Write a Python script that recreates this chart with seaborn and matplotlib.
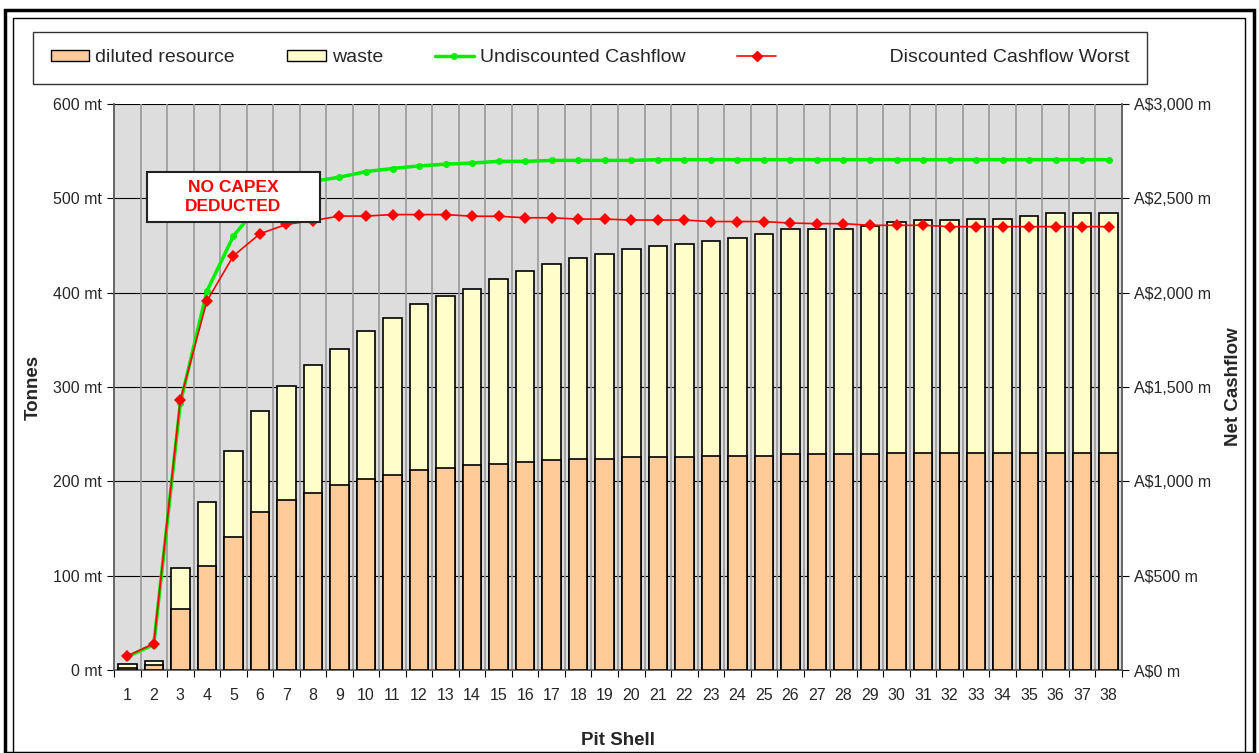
import numpy as np
import pandas as pd
import matplotlib
matplotlib.use('Agg')
import matplotlib.pyplot as plt
from matplotlib.patches import Patch, Rectangle
from matplotlib.lines import Line2D
import seaborn as sns

# data
shells = [str(i) for i in range(1, 39)]
resource = [2, 5, 65, 110, 141, 167, 180, 188, 196, 202, 207, 212, 214, 217, 218, 221, 223, 224, 224,
            226, 226, 226, 227, 227, 227, 229, 229, 229, 229, 230, 230, 230, 230, 230, 230, 230, 230, 230]
waste = [4, 5, 43, 68, 91, 108, 121, 135, 144, 157, 166, 176, 182, 187, 197, 202, 207, 213, 217,
         220, 223, 226, 228, 231, 235, 238, 239, 239, 242, 245, 247, 247, 248, 248, 251, 254, 254, 254]
undiscounted = [70, 135, 1415, 2007, 2300, 2470, 2550, 2590, 2612, 2642, 2658, 2672, 2681, 2687, 2696, 2696,
                2701, 2701, 2701, 2701, 2705, 2705, 2705, 2705, 2705, 2705, 2705, 2705, 2705, 2705, 2705,
                2705, 2705, 2705, 2705, 2705, 2705, 2705]
discounted = [74, 140, 1430, 1955, 2195, 2312, 2362, 2382, 2406, 2406, 2414, 2414, 2414, 2405, 2405, 2397,
              2397, 2390, 2390, 2385, 2385, 2385, 2377, 2377, 2377, 2369, 2366, 2366, 2357, 2357, 2357,
              2350, 2350, 2350, 2350, 2350, 2350, 2350]

df = pd.DataFrame({'shell': shells, 'resource': resource, 'waste': waste,
                   'undisc': undiscounted, 'disc': discounted})
df['total'] = df['resource'] + df['waste']
df['pos'] = np.arange(len(df))

sns.set_theme(style='white')
plt.rcParams['font.family'] = ['Liberation Sans', 'DejaVu Sans']

fig = plt.figure(figsize=(12.59, 7.53), dpi=100)
ax = fig.add_axes([114/1259, 1-670/753, (1122-114)/1259, (670-104)/753])
ax.set_facecolor('#DDDDDD')

# stacked bars: total first (waste colour), then resource on top of it
sns.barplot(data=df, x='shell', y='total', color='#FFFFCC', edgecolor='black', linewidth=1.2,
            width=0.7, saturation=1, ax=ax, zorder=3)
sns.barplot(data=df, x='shell', y='resource', color='#FFCC99', edgecolor='black', linewidth=1.2,
            width=0.7, saturation=1, ax=ax, zorder=3)

ax.set_xlim(-0.5, len(df) - 0.5)
ax.set_ylim(0, 600)
ax.set_yticks(range(0, 601, 100))
ax.set_yticklabels([f'{v} mt' for v in range(0, 601, 100)])
ax.set_xticks(np.arange(-0.5, len(df), 1), minor=True)
ax.tick_params(axis='x', which='major', length=0, labelsize=11.5, pad=13)
ax.tick_params(axis='x', which='minor', length=5, color='black', width=0.8, direction='out', bottom=True)
ax.tick_params(axis='y', length=5, color='black', width=0.8, direction='out', left=True, labelsize=11.5)
ax.grid(False)
for y in range(100, 601, 100):
    ax.axhline(y, color='black', lw=0.8, zorder=1)
for x in np.arange(0.5, len(df) - 1, 1):
    ax.axvline(x, color='#999999', lw=1.2, zorder=1)
for s in ['top', 'right']:
    ax.spines[s].set_visible(False)
ax.spines['left'].set_color('#555555')
ax.spines['bottom'].set_color('#555555')
ax.set_xlabel('Pit Shell', fontsize=13.5, fontweight='bold', labelpad=21)
ax.set_ylabel('Tonnes', fontsize=13.5, fontweight='bold', labelpad=8)

# cashflow lines on the right axis
ax2 = ax.twinx()
ax2.set_zorder(ax.get_zorder() + 1)
ax2.patch.set_visible(False)
sns.lineplot(data=df, x='pos', y='undisc', color='#00EE00', lw=2.5, marker='o', markersize=5,
             markeredgewidth=0, ax=ax2)
sns.lineplot(data=df, x='pos', y='disc', color='red', lw=1.2, marker='D', markersize=6.5,
             markeredgewidth=0, ax=ax2)
ax2.set_ylim(0, 3000)
ax2.set_yticks(range(0, 3001, 500))
ax2.set_yticklabels([f'A${v:,} m' for v in range(0, 3001, 500)])
ax2.tick_params(axis='y', length=5, color='black', width=0.8, direction='out', right=True, labelsize=11.5)
ax2.set_xlim(-0.5, len(df) - 0.5)
ax2.set_xlabel('')
ax2.set_ylabel('Net Cashflow', fontsize=13.5, fontweight='bold', labelpad=10)
for s in ['top', 'left', 'bottom']:
    ax2.spines[s].set_visible(False)
ax2.spines['right'].set_color('#555555')
ax2.grid(False)

# annotation box
ax2.add_patch(Rectangle((0.74, 2375), 6.52, 265, facecolor='white', edgecolor='#222222', lw=1.5, zorder=9))
ax2.text(4.0, 2508, 'NO CAPEX\nDEDUCTED', color='red', fontsize=12.5, fontweight='bold',
         ha='center', va='center', linespacing=1.35, zorder=10)

handles = [Patch(facecolor='#FFCC99', edgecolor='black', label='diluted resource'),
           Patch(facecolor='#FFFFCC', edgecolor='black', label='waste'),
           Line2D([], [], color='#00EE00', lw=2.5, marker='o', markersize=4, label='Undiscounted Cashflow'),
           Line2D([], [], color='red', lw=1.2, marker='D', markersize=5,
                  label='                    Discounted Cashflow Worst')]
leg = fig.legend(handles=handles, loc='lower left', ncol=4, mode='expand', fontsize=14,
                 bbox_to_anchor=(33/1259, 1-84/753, (1147-33)/1259, 48/753),
                 frameon=True, fancybox=False, borderpad=0.9, handlelength=2.0, handleheight=0.55,
                 handletextpad=0.3, borderaxespad=0)
leg.get_frame().set_edgecolor('black')
leg.get_frame().set_linewidth(1)

# chart borders
fig.patches.append(Rectangle((5/1259, 0), 1249/1259, 1-10/753, transform=fig.transFigure,
                             fill=False, edgecolor='black', lw=2.5))
fig.patches.append(Rectangle((13/1259, 0), 1232/1259, 1-18/753, transform=fig.transFigure,
                             fill=False, edgecolor='black', lw=1))

fig.savefig('out.png', dpi=100)
